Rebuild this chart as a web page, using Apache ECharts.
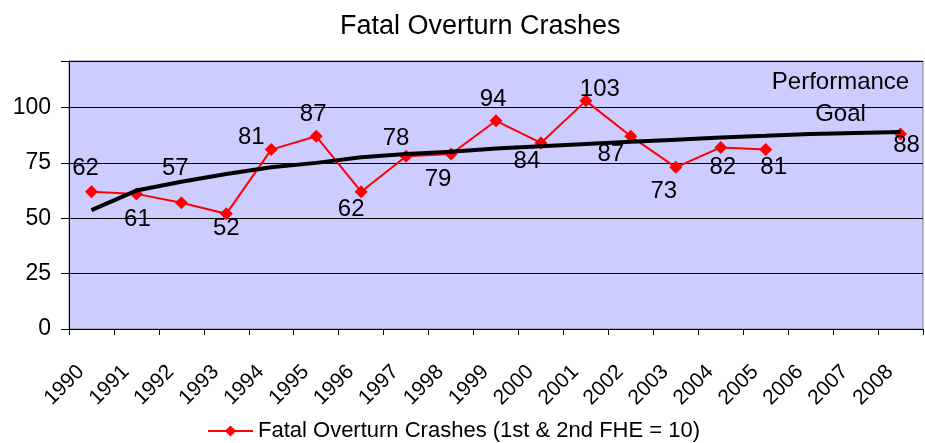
<!DOCTYPE html>
<html>
<head>
<meta charset="utf-8">
<script src="https://cdn.jsdelivr.net/npm/echarts@6/dist/echarts.min.js"></script>
<style>
  html, body { margin: 0; padding: 0; background: #fff; }
  #chart { width: 925px; height: 443px; }
</style>
</head>
<body>
<div id="chart"></div>
<script>
// 年份
var years = ['1990', '1991', '1992', '1993', '1994', '1995', '1996', '1997', '1998', '1999',
             '2000', '2001', '2002', '2003', '2004', '2005', '2006', '2007', '2008'];
// 翻车致死事故数（2006、2007 无数据）
var crashes = [62, 61, 57, 52, 81, 87, 62, 78, 79, 94, 84, 103, 87, 73, 82, 81, null, null, 88];
// 绩效目标线
var goal = [53.7, 62.5, 66.5, 70, 73, 75, 77.5, 79, 80, 81.5, 82.5, 83.5, 84.5, 85.5, 86.5, 87.2, 88, 88.5, 89];
var yTicks = [0, 25, 50, 75, 100];

var seriesName = 'Fatal Overturn Crashes (1st & 2nd FHE = 10)';
var goalText = 'Performance\nGoal';

// 数据标签相对点的偏移（像素）
var labelShift = [[-6, -23], [1, 25], [-6, -34], [0, 15], [-20, -12], [-3, -22], [-10, 18], [-10, -18],
                  [-13, 25], [-3, -21], [-14, 18], [14, -11], [-20, 18], [-12, 24], [2, 20], [8, 18],
                  null, null, [6, 11]];

var FONT = 'Liberation Sans, Arial, sans-serif';

var chart = echarts.init(document.getElementById('chart'));

var crashData = crashes.map(function (v, i) {
    if (v == null) return null;
    return {
        value: v,
        label: { offset: labelShift[i] }
    };
});

//目标线只在最后一点显示文字
var goalData = goal.map(function (v, i) {
    if (i === goal.length - 1) {
        return {
            value: v,
            label: {
                show: true,
                formatter: goalText,
                position: 'inside',
                offset: [-60, -34],
                color: '#000',
                fontSize: 24,
                fontFamily: FONT,
                lineHeight: 32,
                align: 'center'
            }
        };
    }
    return v;
});

var option = {
    animation: false,
    backgroundColor: '#fff',
    title: {
        text: 'Fatal Overturn Crashes',
        left: 335,
        top: 8,
        textStyle: { color: '#000', fontSize: 27, fontWeight: 'normal', fontFamily: FONT }
    },
    legend: {
        data: [seriesName],
        left: 202,
        top: 415,
        itemWidth: 45,
        itemHeight: 14,
        itemGap: 6,
        textStyle: { color: '#000', fontSize: 22, fontFamily: FONT }
    },
    grid: {
        left: 69,
        right: 2,
        top: 61,
        bottom: 114,
        show: true,
        backgroundColor: '#CCCCFF',
        borderColor: '#808080',
        borderWidth: 1
    },
    xAxis: {
        type: 'category',
        data: years,
        boundaryGap: true,
        axisLine: { lineStyle: { color: '#000', width: 1 } },
        axisTick: { show: true, length: 6, lineStyle: { color: '#000' } },
        axisLabel: {
            rotate: 45,
            margin: 29,
            padding: [0, 15, 0, 0],
            color: '#000',
            fontSize: 21,
            fontFamily: FONT,
            interval: 0
        },
        splitLine: { show: false }
    },
    yAxis: {
        type: 'value',
        min: 0,
        max: 121,
        interval: 25,
        axisLine: { show: true, lineStyle: { color: '#000', width: 1 } },
        axisTick: { show: true, length: 8, lineStyle: { color: '#000' } },
        axisLabel: {
            margin: 18,
            color: '#000',
            fontSize: 23,
            fontFamily: FONT,
            formatter: function (v) {
                return yTicks.indexOf(v) >= 0 ? String(v) : '';
            }
        },
        splitLine: { show: true, lineStyle: { color: '#000', width: 1 } }
    },
    series: [
        {
            name: seriesName,
            type: 'line',
            data: crashData,
            connectNulls: false,
            symbol: 'diamond',
            symbolSize: 13,
            itemStyle: { color: '#FF0000' },
            lineStyle: { color: '#FF0000', width: 2 },
            label: {
                show: true,
                position: 'inside',
                color: '#000',
                fontSize: 24,
                fontFamily: FONT
            },
            z: 2
        },
        {
            name: 'Performance Goal',
            type: 'line',
            data: goalData,
            symbol: 'circle',
            symbolSize: 0,
            showSymbol: true,
            itemStyle: { color: '#000' },
            lineStyle: { color: '#000', width: 4 },
            z: 3
        }
    ]
};

chart.setOption(option);
</script>
</body>
</html>
